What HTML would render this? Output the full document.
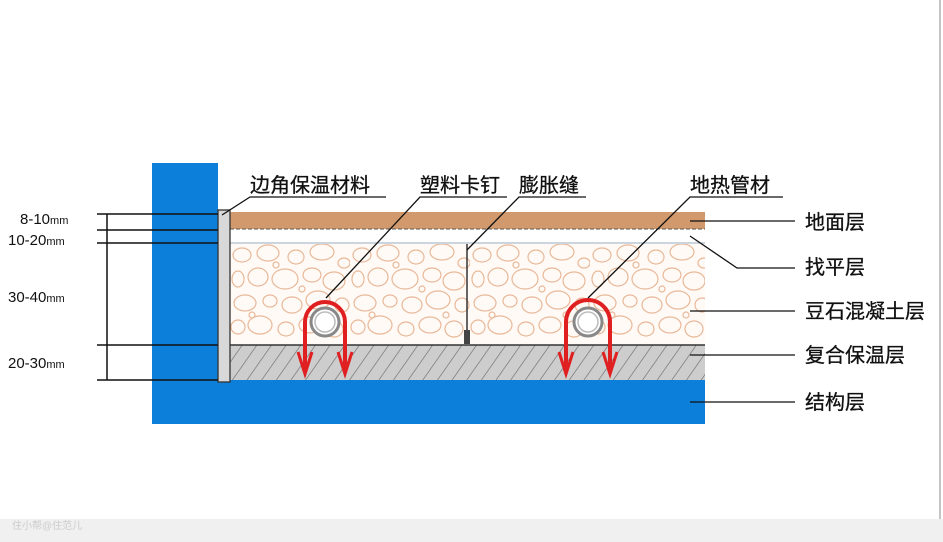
<!DOCTYPE html>
<html><head><meta charset="utf-8"><style>
html,body{margin:0;padding:0;background:#fff;}
svg{display:block}
text{font-family:"Liberation Sans","Noto Sans CJK SC",sans-serif;}
</style></head><body>
<svg width="943" height="542" viewBox="0 0 943 542" xmlns="http://www.w3.org/2000/svg">
<defs>
<pattern id="peb" x="230" y="243" width="120" height="102" patternUnits="userSpaceOnUse">
<g fill="none" stroke="#e8b898" stroke-width="1.2">
<ellipse cx="12" cy="12" rx="9" ry="7"/><ellipse cx="38" cy="10" rx="11" ry="8"/><ellipse cx="66" cy="14" rx="8" ry="7"/><ellipse cx="92" cy="9" rx="12" ry="8"/><ellipse cx="114" cy="20" rx="6" ry="5"/>
<ellipse cx="8" cy="36" rx="6" ry="8"/><ellipse cx="28" cy="34" rx="10" ry="9"/><ellipse cx="55" cy="36" rx="13" ry="10"/><ellipse cx="82" cy="32" rx="9" ry="7"/><ellipse cx="104" cy="38" rx="11" ry="9"/>
<ellipse cx="15" cy="60" rx="11" ry="8"/><ellipse cx="40" cy="58" rx="7" ry="6"/><ellipse cx="62" cy="62" rx="10" ry="8"/><ellipse cx="88" cy="57" rx="12" ry="9"/><ellipse cx="112" cy="62" rx="7" ry="7"/>
<ellipse cx="8" cy="84" rx="7" ry="7"/><ellipse cx="30" cy="82" rx="12" ry="9"/><ellipse cx="56" cy="86" rx="8" ry="7"/><ellipse cx="80" cy="82" rx="11" ry="8"/><ellipse cx="104" cy="86" rx="9" ry="8"/>
<ellipse cx="46" cy="22" rx="3" ry="3"/><ellipse cx="72" cy="46" rx="3" ry="3"/><ellipse cx="22" cy="72" rx="3" ry="3"/><ellipse cx="96" cy="72" rx="3" ry="3"/>
</g></pattern>
<pattern id="hat" width="12" height="12" patternUnits="userSpaceOnUse" patternTransform="rotate(35)">
<rect width="12" height="12" fill="#cdcdcd"/><line x1="0" y1="0" x2="0" y2="12" stroke="#666" stroke-width="1.2"/>
</pattern>
</defs>
<rect x="0" y="519" width="943" height="23" fill="#f0f0f0"/>
<text x="12" y="529" font-size="10" fill="#ccc">住小帮@住范儿</text>
<line x1="940" y1="0" x2="940" y2="519" stroke="#888" stroke-width="1"/>
<rect x="152" y="163" width="66" height="261" fill="#0b7fd9"/>
<rect x="152" y="380" width="553" height="44" fill="#0b7fd9"/>
<rect x="230" y="212" width="475" height="17" fill="#d29a6c"/>
<line x1="230" y1="229" x2="705" y2="229" stroke="#555" stroke-width="1" stroke-dasharray="4,2"/>
<rect x="230" y="230" width="475" height="13" fill="#fff"/>
<line x1="230" y1="243" x2="705" y2="243" stroke="#9ab" stroke-width="1"/>
<rect x="230" y="244" width="475" height="101" fill="#fffaf6"/>
<rect x="230" y="244" width="475" height="101" fill="url(#peb)"/>
<rect x="230" y="345" width="475" height="35" fill="url(#hat)"/>
<line x1="230" y1="345" x2="705" y2="345" stroke="#333" stroke-width="1.5"/>
<rect x="218" y="210" width="12" height="172" fill="#d8d8d8" stroke="#333" stroke-width="1.3"/>
<line x1="467" y1="244" x2="467" y2="336" stroke="#333" stroke-width="1.5"/>
<rect x="464" y="330" width="6" height="14" fill="#444"/>
<g>
<circle cx="325" cy="322" r="14" fill="#fff" stroke="#888" stroke-width="3"/>
<circle cx="325" cy="322" r="10" fill="#fff" stroke="#bbb" stroke-width="1.5"/>
<path d="M305,370 L305,322 A20,20 0 0 1 345,322 L345,370" fill="none" stroke="#e02020" stroke-width="4"/>
<path d="M298,352 L305,374 L312,352 M338,352 L345,374 L352,352" fill="none" stroke="#e02020" stroke-width="3"/>
<circle cx="588" cy="322" r="14" fill="#fff" stroke="#888" stroke-width="3"/>
<circle cx="588" cy="322" r="10" fill="#fff" stroke="#bbb" stroke-width="1.5"/>
<path d="M566,370 L566,322 A20,20 0 0 1 610,322 L610,370" fill="none" stroke="#e02020" stroke-width="4"/>
<path d="M559,352 L566,374 L573,352 M603,352 L610,374 L617,352" fill="none" stroke="#e02020" stroke-width="3"/>
</g>
<g stroke="#111" stroke-width="1.5">
<line x1="97" y1="214" x2="218" y2="214"/><line x1="97" y1="230" x2="218" y2="230"/><line x1="97" y1="243" x2="218" y2="243"/>
<line x1="97" y1="345" x2="218" y2="345"/><line x1="97" y1="380" x2="218" y2="380"/>
<line x1="107" y1="214" x2="107" y2="380"/>
</g>
<g font-size="15" fill="#111">
<text x="20" y="224">8-10<tspan font-size="11">mm</tspan></text>
<text x="8" y="245">10-20<tspan font-size="11">mm</tspan></text>
<text x="8" y="302">30-40<tspan font-size="11">mm</tspan></text>
<text x="8" y="368">20-30<tspan font-size="11">mm</tspan></text>
</g>
<g font-size="20" fill="#111" stroke="#111" stroke-width="0.3">
<text x="250" y="192">边角保温材料</text>
<text x="420" y="192">塑料卡钉</text>
<text x="519" y="192">膨胀缝</text>
<text x="690" y="192">地热管材</text>
</g>
<g stroke="#111" stroke-width="1.3" fill="none">
<polyline points="386,197 250,197 222,215"/>
<polyline points="507,197 420,197 326,298"/>
<polyline points="586,197 519,197 467,250"/>
<polyline points="783,197 690,197 588,298"/>
<line x1="690" y1="221" x2="795" y2="221"/>
<polyline points="690,236 737,268 795,268"/>
<line x1="690" y1="311" x2="795" y2="311"/>
<line x1="690" y1="355" x2="795" y2="355"/>
<line x1="690" y1="402" x2="795" y2="402"/>
</g>
<g font-size="20" fill="#111" stroke="#111" stroke-width="0.3">
<text x="805" y="229">地面层</text>
<text x="805" y="274">找平层</text>
<text x="805" y="318">豆石混凝土层</text>
<text x="805" y="362">复合保温层</text>
<text x="805" y="409">结构层</text>
</g>
</svg>
</body></html>
